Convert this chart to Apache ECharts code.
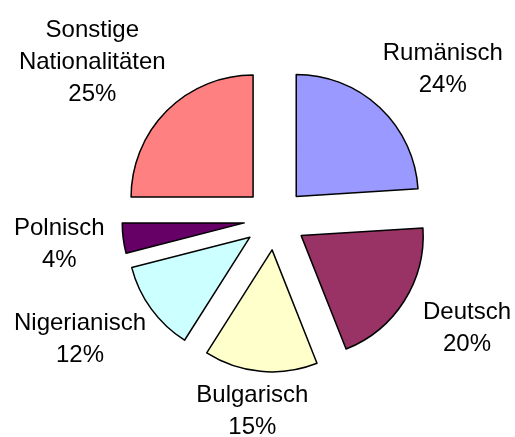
<!DOCTYPE html>
<html>
<head>
<meta charset="utf-8">
<script src="https://cdn.jsdelivr.net/npm/echarts@6/dist/echarts.min.js"></script>
<style>
  html, body { margin: 0; padding: 0; background: #fff; }
  #chart { width: 515px; height: 437px; }
</style>
</head>
<body>
<div id="chart"></div>
<script>
// slices clockwise from 12 o'clock
const names = ['Rumänisch', 'Deutsch', 'Bulgarisch', 'Nigerianisch', 'Polnisch', 'Sonstige\nNationalitäten'];
const shares = [24, 20, 15, 12, 4, 25];
const colors = ['#9999ff', '#993366', '#ffffcc', '#ccffff', '#660066', '#ff8080'];

const W = 515, H = 437;
const cx = 275, cy = 219, radius = 122, explode = 31;
const gapX = 32, gapY = 20;

const total = shares.reduce((a, b) => a + b, 0);
const midAngles = [];
let acc = 0;
shares.forEach(v => {
  midAngles.push((acc + v / 2) / total * 2 * Math.PI);
  acc += v;
});

// label box sits just outside its exploded slice, kept inside the canvas
function placeLabel(p) {
  const a = midAngles[p.dataIndex];
  const dx = Math.sin(a), dy = -Math.cos(a);
  const w = p.labelRect.width, h = p.labelRect.height;
  const r = radius + explode;
  let x = cx + dx * (r + gapX + w / 2);
  let y = cy + dy * (r + gapY + h / 2);
  x = Math.max(14 + w / 2, Math.min(x, W - 4 - w / 2));
  y = Math.min(y, H - h / 2 + 6);
  return { x: x, y: y, align: 'center', verticalAlign: 'middle' };
}

const chart = echarts.init(document.getElementById('chart'));
chart.setOption({
  animation: false,
  series: [
    {
      type: 'pie',
      center: [cx, cy],
      radius: radius,
      startAngle: 90,
      selectedMode: 'multiple',
      selectedOffset: explode,
      emphasis: { disabled: true },
      itemStyle: { borderColor: '#000', borderWidth: 1.5 },
      label: { show: false },
      labelLine: { show: false },
      data: names.map((n, i) => ({
        name: n, value: shares[i], selected: true, itemStyle: { color: colors[i] }
      }))
    },
    {
      // labels only
      type: 'pie',
      silent: true,
      center: [cx, cy],
      radius: radius,
      startAngle: 90,
      avoidLabelOverlap: false,
      emphasis: { disabled: true },
      itemStyle: { color: 'rgba(0,0,0,0)', borderWidth: 0 },
      label: {
        position: 'outside',
        color: '#000',
        fontFamily: 'Liberation Sans',
        fontSize: 24,
        lineHeight: 32,
        formatter: p => p.name + '\n' + p.value + '%'
      },
      labelLine: { show: false },
      labelLayout: placeLabel,
      data: names.map((n, i) => ({ name: n, value: shares[i] }))
    }
  ]
});
</script>
</body>
</html>
